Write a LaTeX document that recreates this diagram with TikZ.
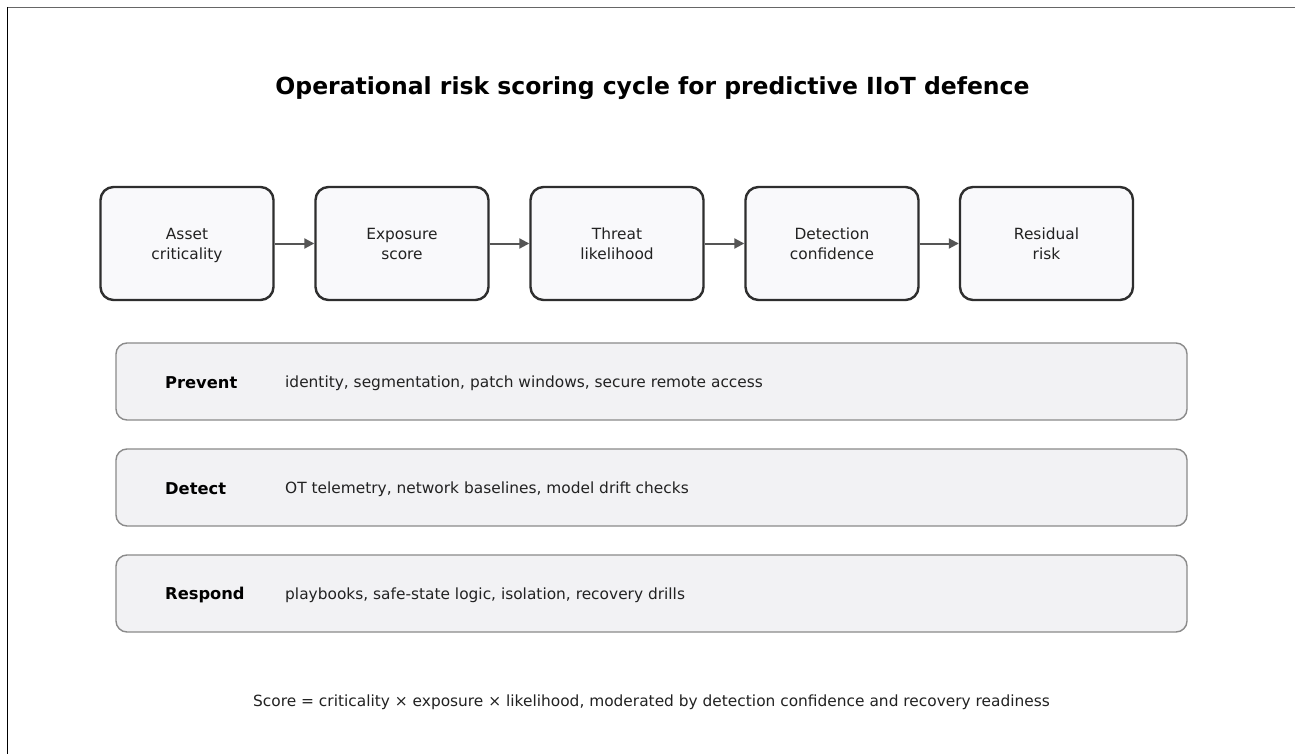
\documentclass[tikz,border=0pt]{standalone}
\usepackage{fontspec}
\setmainfont{DejaVu Sans}
\usetikzlibrary{arrows.meta}
\definecolor{stagefill}{HTML}{F9F9FB}
\definecolor{stageline}{HTML}{2E2E2E}
\definecolor{bandfill}{HTML}{F2F2F4}
\definecolor{bandline}{HTML}{8A8A8A}
\definecolor{flowline}{HTML}{555555}
\definecolor{txt}{HTML}{222222}
% line struts for the two-line stage captions
\newcommand{\topstrut}{\rule{0pt}{17.5pt}}
\begin{document}
\begin{tikzpicture}[x=1pt,y=-1pt,
  stage/.style={draw=stageline,line width=2.4pt,fill=stagefill,rounded corners=13pt,
    minimum width=173pt,minimum height=113pt,align=center,text=txt,
    font=\fontsize{15.4}{20}\selectfont,inner sep=0pt},
  band/.style={draw=bandline,line width=1.4pt,fill=bandfill,rounded corners=11pt,
    minimum width=1071pt,minimum height=77pt,inner sep=0pt},
  bandlabel/.style={anchor=west,inner sep=0pt,font=\fontsize{16.3}{18}\selectfont\bfseries,text=black},
  banddesc/.style={anchor=west,inner sep=0pt,font=\fontsize{15.4}{18}\selectfont,text=txt},
  flow/.style={draw=flowline,line width=2pt,-{Triangle[length=10pt,width=10pt]}}
]
\useasboundingbox (0,0) rectangle (1295,754);
\fill[white] (0,0) rectangle (1295,754);
% partial frame
\draw[line width=1.3pt,color=flowline!90] (7,7.3) -- (1295,7.3);
\draw[line width=1.3pt,black] (7.3,7) -- (7.3,754);

\node[font=\fontsize{23.5}{28}\selectfont\bfseries] (title) at (652.5,88) {Operational risk scoring cycle for predictive IIoT defence};

% risk stages
\node[stage] (s1) at (187,243.5) {\topstrut Asset\\\strut criticality};
\node[stage] (s2) at (402,243.5) {\topstrut Exposure\\\strut score};
\node[stage] (s3) at (617,243.5) {\topstrut Threat\\\strut likelihood};
\node[stage] (s4) at (832,243.5) {\topstrut Detection\\\strut confidence};
\node[stage] (s5) at (1046.5,243.5) {\topstrut Residual\\\strut risk};
\foreach \a/\b in {s1/s2,s2/s3,s3/s4,s4/s5}
  \draw[flow] (\a.east) -- (\b.west);

% control bands
\node[band] (prevent) at (651.5,381.5) {};
\node[band] (detect) at (651.5,487.5) {};
\node[band] (respond) at (651.5,593.5) {};
\node[bandlabel] (lp) at (165,382.5) {Prevent};
\node[banddesc] (dp) at (285,383.5) {identity, segmentation, patch windows, secure remote access};
\node[bandlabel] (ld) at (165,488.5) {Detect};
\node[banddesc] (dd) at (285,489.5) {OT telemetry, network baselines, model drift checks};
\node[bandlabel] (lr) at (165,594.5) {Respond};
\node[banddesc] (dr) at (285,595.5) {playbooks, safe-state logic, isolation, recovery drills};

\node[font=\fontsize{15.4}{18}\selectfont,text=txt] (score) at (651.5,702) {Score = criticality × exposure × likelihood, moderated by detection confidence and recovery readiness};
\end{tikzpicture}
\end{document}
